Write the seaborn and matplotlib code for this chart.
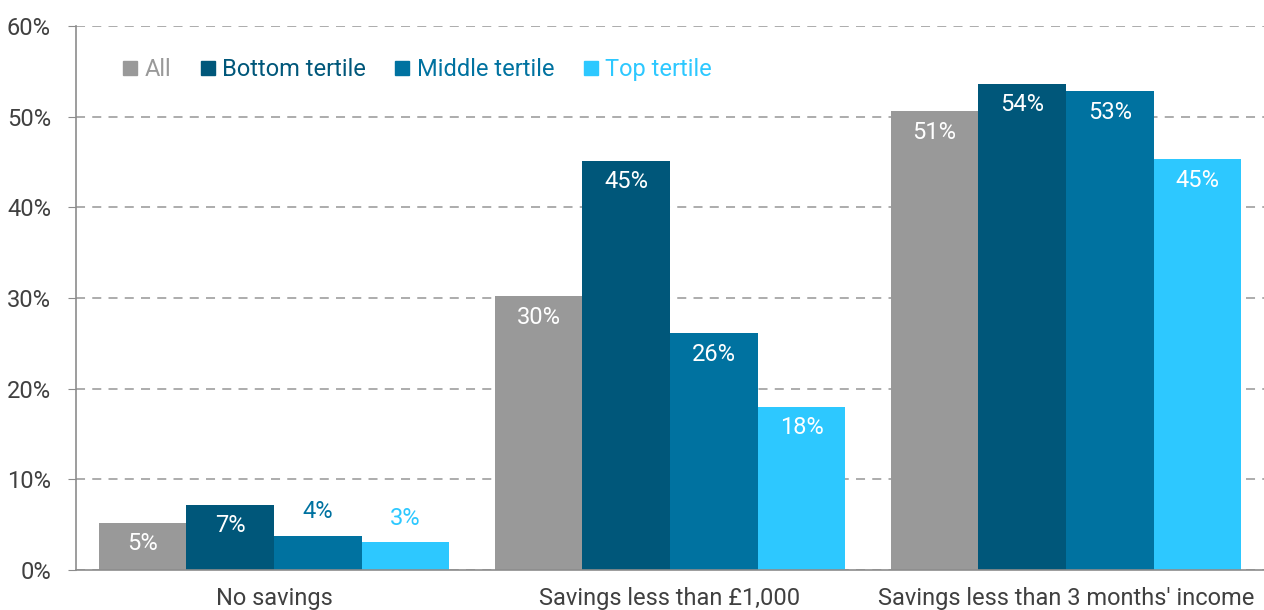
import numpy as np
import pandas as pd
import seaborn as sns
import matplotlib.pyplot as plt
from matplotlib.lines import Line2D

# Data ########################################################################
categories = ["No savings", "Savings less than £1,000", "Savings less than 3 months' income"]
groups = ["All", "Bottom tertile", "Middle tertile", "Top tertile"]
all_vals = [5.2, 30.2, 50.6]
bottom_vals = [7.2, 45.1, 53.6]
middle_vals = [3.8, 26.1, 52.8]
top_vals = [3.1, 18.0, 45.3]
labels_all = ["5%", "30%", "51%"]
labels_bottom = ["7%", "45%", "54%"]
labels_middle = ["4%", "26%", "53%"]
labels_top = ["3%", "18%", "45%"]
# labels that sit above the bar instead of inside it
outside = {("Middle tertile", 0), ("Top tertile", 0)}

colors = ["#999999", "#00577a", "#0072a0", "#2dc8ff"]

df = pd.DataFrame({
    "category": categories * 4,
    "group": np.repeat(groups, 3),
    "value": all_vals + bottom_vals + middle_vals + top_vals,
})
label_map = dict(zip(groups, [labels_all, labels_bottom, labels_middle, labels_top]))

# Plot ########################################################################
sns.set_style("white")
plt.rcParams["font.family"] = ["Roboto", "DejaVu Sans"]

fig = plt.figure(figsize=(12.64, 6.10), dpi=100)
ax = fig.add_axes([76 / 1264, 40 / 610, 1188 / 1264, 544 / 610])

sns.barplot(data=df, x="category", y="value", hue="group", palette=colors,
            width=0.886, gap=0, saturation=1, legend=False, linewidth=0, ax=ax)

for cont, grp, col in zip(ax.containers, groups, colors):
    for i, bar in enumerate(cont):
        h = bar.get_height()
        xc = bar.get_x() + bar.get_width() / 2
        if (grp, i) in outside:
            ax.annotate(label_map[grp][i], (xc, h), xytext=(0, 17), textcoords="offset points",
                        ha="center", va="center", color=col, fontsize=17)
        else:
            ax.annotate(label_map[grp][i], (xc, h), xytext=(0, -15), textcoords="offset points",
                        ha="center", va="center", color="white", fontsize=17)

ax.set_xlim(-0.5, 2.5)
ax.set_ylim(0, 60)
ax.set_yticks(range(0, 61, 10))
ax.set_yticklabels([f"{v}%" for v in range(0, 61, 10)])
ax.yaxis.grid(True, linestyle=(0, (5, 4)), color="#a6a6a6", linewidth=1.3)
ax.set_axisbelow(True)
ax.set_xlabel("")
ax.set_ylabel("")

for s in ["top", "right"]:
    ax.spines[s].set_visible(False)
for s in ["left", "bottom"]:
    ax.spines[s].set_color("#8c8c8c")
    ax.spines[s].set_linewidth(1.2)

ax.tick_params(axis="y", length=6, color="#8c8c8c", labelsize=17, labelcolor="#404040", pad=12, left=True)
ax.tick_params(axis="x", length=0, labelsize=17, labelcolor="#404040", pad=12)

handles = [Line2D([], [], marker="s", linestyle="", markersize=10, color=c) for c in colors]
ax.legend(handles, groups, loc="center left", bbox_to_anchor=(0.018, 0.92), ncol=4,
          frameon=False, fontsize=17, handletextpad=0.1, columnspacing=1.05,
          handlelength=1.0, labelcolor=colors)

plt.savefig("out.png", dpi=100)
